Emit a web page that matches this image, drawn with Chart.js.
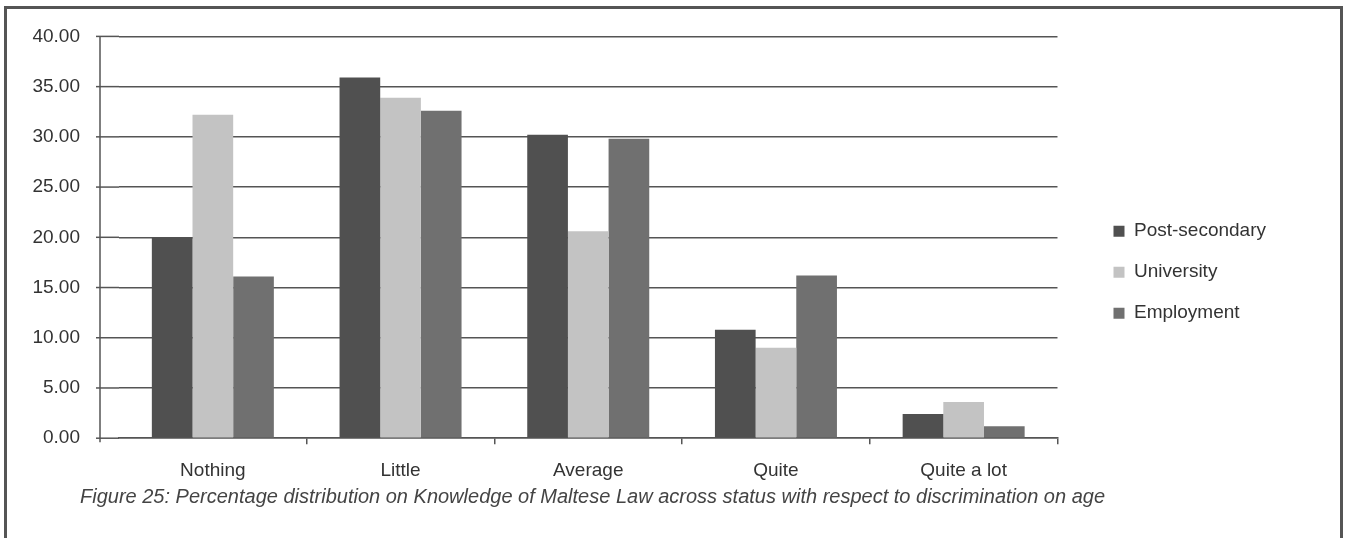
<!DOCTYPE html>
<html>
<head>
<meta charset="utf-8">
<script src="https://cdn.jsdelivr.net/npm/chart.js@4"></script>
<style>
  html, body { margin: 0; padding: 0; background: #fff; }
  body { width: 1349px; height: 538px; position: relative; overflow: hidden; }
  #frame {
    position: absolute; left: 4px; top: 6px; width: 1333px; height: 540px;
    border-left: 3px solid #555; border-top: 3px solid #555; border-right: 3px solid #555;
  }
  #wrap { position: absolute; left: 0; top: -14px; width: 1349px; height: 511px; }
  #caption {
    position: absolute; left: 80px; top: 485px;
    font: italic 20px "Liberation Sans", Arial, sans-serif; color: #444;
  }
</style>
</head>
<body>
<div id="frame"></div>
<div id="wrap"><canvas id="chart"></canvas></div>
<div id="caption">Figure 25: Percentage distribution on Knowledge of Maltese Law across status with respect to discrimination on age</div>
<script>
const CATEGORIES = ['Nothing', 'Little', 'Average', 'Quite', 'Quite a lot'];
const POST_SECONDARY = [20.0, 35.9, 30.2, 10.8, 2.4];
const UNIVERSITY = [32.2, 33.9, 20.6, 9.0, 3.6];
const EMPLOYMENT = [16.1, 32.6, 29.8, 16.2, 1.2];

const AXIS_X = 100; // where the y axis line sits, left of the first category

// extends the grid lines and draws the y axis a little left of the plot area
const axisPlugin = {
    id: 'axisLine',
    beforeDatasetsDraw(chart) {
        const { ctx, chartArea, scales } = chart;
        ctx.save();
        ctx.strokeStyle = '#555';
        ctx.lineWidth = 1.5;
        scales.y.ticks.forEach(t => {
            const y = scales.y.getPixelForValue(t.value);
            ctx.beginPath();
            ctx.moveTo(AXIS_X - 4, y);
            ctx.lineTo(chartArea.left, y);
            ctx.stroke();
        });
        ctx.beginPath();
        ctx.moveTo(AXIS_X, chartArea.top);
        ctx.lineTo(AXIS_X, chartArea.bottom + 4);
        ctx.stroke();
        ctx.restore();
    }
};

new Chart(document.getElementById('chart'), {
    type: 'bar',
    data: {
        labels: CATEGORIES,
        datasets: [
            { label: 'Post-secondary', data: POST_SECONDARY, backgroundColor: '#505050' },
            { label: 'University', data: UNIVERSITY, backgroundColor: '#c3c3c3' },
            { label: 'Employment', data: EMPLOYMENT, backgroundColor: '#707070' }
        ]
    },
    options: {
        responsive: true,
        maintainAspectRatio: false,
        animation: false,
        layout: { padding: { top: 15, left: 0, right: 73, bottom: 0 } },
        datasets: { bar: { categoryPercentage: 0.65, barPercentage: 1.0 } },
        scales: {
            x: {
                grid: {
                    drawOnChartArea: false,
                    color: c => c.index === 0 ? 'rgba(0,0,0,0)' : '#555',
                    lineWidth: 1.5,
                    tickLength: 6
                },
                border: { color: '#555', width: 1.5 },
                ticks: { color: '#333', padding: 15, font: { family: 'Liberation Sans', size: 19 } }
            },
            y: {
                min: 0,
                max: 40,
                afterFit(scale) { scale.width = 119; },
                ticks: {
                    stepSize: 5,
                    padding: 39,
                    color: '#333',
                    font: { family: 'Liberation Sans', size: 19 },
                    callback: v => Number(v).toFixed(2)
                },
                grid: { color: '#555', lineWidth: 1.5, drawTicks: false },
                border: { display: false }
            },
            // empty spacer between the plot and the legend
            gap: {
                type: 'linear',
                position: 'right',
                afterFit(scale) { scale.width = 34; },
                ticks: { display: false },
                grid: { display: false },
                border: { display: false }
            }
        },
        plugins: {
            legend: {
                position: 'right',
                title: { display: true, text: ' ', padding: 16, font: { size: 12 } },
                labels: {
                    boxWidth: 11,
                    boxHeight: 11,
                    padding: 22,
                    color: '#333',
                    font: { family: 'Liberation Sans', size: 19 }
                }
            },
            tooltip: { enabled: false }
        }
    },
    plugins: [axisPlugin]
});
</script>
</body>
</html>
